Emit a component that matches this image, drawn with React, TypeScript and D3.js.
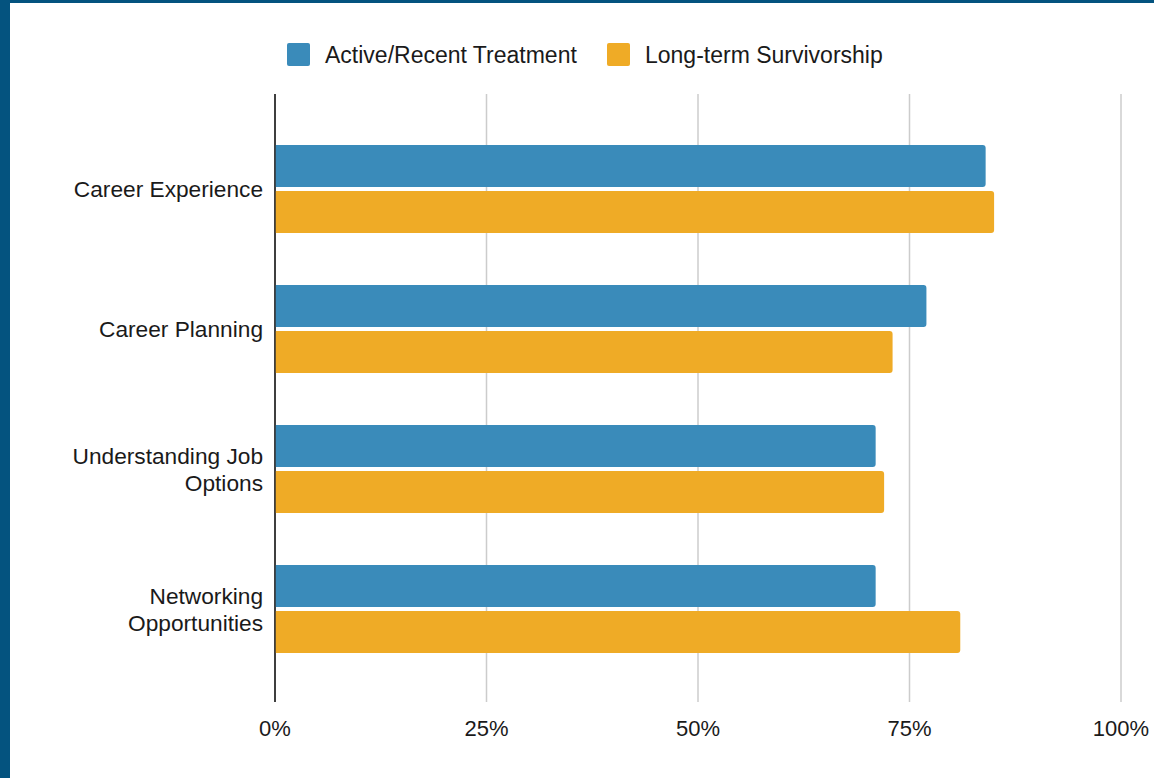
import React from "react";
import * as d3 from "d3";

const categories = ["Career Experience", "Career Planning", "Understanding Job Options", "Networking Opportunities"];
const categoryLines = [["Career Experience"], ["Career Planning"], ["Understanding Job", "Options"], ["Networking", "Opportunities"]];
const seriesNames = ["Active/Recent Treatment", "Long-term Survivorship"];
const activeValues = [0.84, 0.77, 0.71, 0.71];
const longTermValues = [0.85, 0.73, 0.72, 0.81];
const xTicks = [0, 0.25, 0.5, 0.75, 1];
const colors = ["#3A8BBA", "#EFAB26"];

const W = 1154;
const H = 778;
const FONT = "'Liberation Sans', Arial, sans-serif";

function roundRightRect(x: number, y: number, w: number, h: number, r: number) {
  const rr = Math.min(r, w / 2, h / 2);
  return `M${x},${y}H${x + w - rr}Q${x + w},${y} ${x + w},${y + rr}V${y + h - rr}Q${x + w},${y + h} ${x + w - rr},${y + h}H${x}Z`;
}

export default function App() {
  const x = d3.scaleLinear().domain([0, 1]).range([275, 1121]);
  const y = d3.scaleBand<string>().domain(categories).range([119, 679]).paddingInner(0).paddingOuter(0);
  const series = [activeValues, longTermValues];
  const barH = 42;
  const gap = 4;
  const gridTop = 94;
  const gridBottom = 702;

  return (
    <svg width={W} height={H} style={{ position: "absolute", left: 0, top: 0, display: "block" }} fontFamily={FONT}>
      <rect x={0} y={0} width={W} height={H} fill="#ffffff" />
      <rect x={0} y={0} width={10} height={H} fill="#04537F" />
      <rect x={0} y={0} width={W} height={3} fill="#04537F" />

      {/* legend */}
      {seriesNames.map((name, i) => {
        const sx = i === 0 ? 287 : 607;
        return (
          <g key={name}>
            <rect x={sx} y={43} width={23} height={23} rx={2} fill={colors[i]} />
            <text x={sx + 38} y={63} fontSize={23} fill="#1a1a1a">{name}</text>
          </g>
        );
      })}

      {/* gridlines */}
      {xTicks.map((t) => (
        <line key={t} x1={x(t)} x2={x(t)} y1={gridTop} y2={gridBottom} stroke={t === 0 ? "#333" : "#ccc"} strokeWidth={1.5} />
      ))}

      {/* bars */}
      {categories.map((c, ci) => {
        const center = (y(c) as number) + y.bandwidth() / 2;
        const top = center - barH - gap / 2;
        return series.map((vals, si) => {
          const by = top + si * (barH + gap);
          return (
            <path key={c + si} d={roundRightRect(x(0), by, x(vals[ci]) - x(0), barH, 3)} fill={colors[si]} />
          );
        });
      })}

      {/* axis line on top */}
      <line x1={x(0)} x2={x(0)} y1={gridTop} y2={gridBottom} stroke="#333" strokeWidth={1.5} />

      {/* category labels */}
      {categories.map((c, ci) => {
        const center = (y(c) as number) + y.bandwidth() / 2;
        const lines = categoryLines[ci];
        const lh = 27;
        const start = center - ((lines.length - 1) * lh) / 2;
        return (
          <text key={c} textAnchor="end" fontSize={22.7} fill="#1a1a1a">
            {lines.map((l, li) => (
              <tspan key={li} x={263} y={start + li * lh + 8}>{l}</tspan>
            ))}
          </text>
        );
      })}

      {/* x tick labels */}
      {xTicks.map((t) => (
        <text key={t} x={x(t)} y={736} textAnchor="middle" fontSize={22} fill="#1a1a1a">
          {d3.format(".0%")(t)}
        </text>
      ))}
    </svg>
  );
}
